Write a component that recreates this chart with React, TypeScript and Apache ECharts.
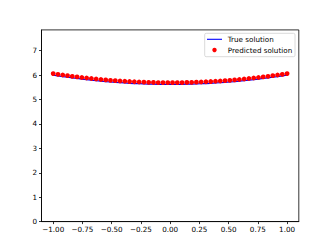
import React, { useEffect, useRef } from "react";
import * as echarts from "echarts";

const xValues = [
  -1.0, -0.9592, -0.9184, -0.8776, -0.8367, -0.7959, -0.7551, -0.7143, -0.6735, -0.6327,
  -0.5918, -0.551, -0.5102, -0.4694, -0.4286, -0.3878, -0.3469, -0.3061, -0.2653, -0.2245,
  -0.1837, -0.1429, -0.102, -0.0612, -0.0204, 0.0204, 0.0612, 0.102, 0.1429, 0.1837,
  0.2245, 0.2653, 0.3061, 0.3469, 0.3878, 0.4286, 0.4694, 0.5102, 0.551, 0.5918,
  0.6327, 0.6735, 0.7143, 0.7551, 0.7959, 0.8367, 0.8776, 0.9184, 0.9592, 1.0,
];

const trueValues = [
  6.0, 5.97, 5.941, 5.913, 5.886, 5.861, 5.837, 5.814, 5.792, 5.772,
  5.753, 5.735, 5.719, 5.704, 5.69, 5.677, 5.666, 5.656, 5.647, 5.639,
  5.633, 5.628, 5.624, 5.621, 5.62, 5.62, 5.621, 5.624, 5.628, 5.633,
  5.639, 5.647, 5.656, 5.666, 5.677, 5.69, 5.704, 5.719, 5.735, 5.753,
  5.772, 5.792, 5.814, 5.837, 5.861, 5.886, 5.913, 5.941, 5.97, 6.0,
];

const predictedValues = [
  6.06, 6.03, 6.002, 5.975, 5.949, 5.924, 5.901, 5.879, 5.858, 5.838,
  5.82, 5.802, 5.786, 5.772, 5.758, 5.746, 5.735, 5.725, 5.716, 5.709,
  5.703, 5.698, 5.694, 5.691, 5.69, 5.69, 5.691, 5.694, 5.698, 5.703,
  5.709, 5.716, 5.725, 5.735, 5.746, 5.758, 5.772, 5.786, 5.802, 5.82,
  5.838, 5.858, 5.879, 5.901, 5.924, 5.949, 5.975, 6.002, 6.03, 6.06,
];

const xTicks = [-1.0, -0.75, -0.5, -0.25, 0.0, 0.25, 0.5, 0.75, 1.0];
const yTicks = [0, 1, 2, 3, 4, 5, 6, 7];
const legendNames = ["True solution", "Predicted solution"];

const FONT = "DejaVu Sans";
const FS = 7.2;

export default function App() {
  const ref = useRef<HTMLDivElement>(null);
  useEffect(() => {
    if (!ref.current) return;
    const chart = echarts.init(ref.current, null, { renderer: "svg" });
    const gl = 41.5, gt = 29.9, gw = 257.3, gh = 191.7;
    const lx = 204.7, ly = 33.3, lw = 90.3, lh = 23.4;
    chart.setOption({
      animation: false,
      backgroundColor: "#ffffff",
      grid: {
        left: gl, top: gt, width: gw, height: gh,
        show: true, borderColor: "#000", borderWidth: 0.8, containLabel: false,
      },
      xAxis: {
        type: "value", min: -1.1, max: 1.1,
        splitLine: { show: false },
        axisLine: { show: true, onZero: false, lineStyle: { color: "#000", width: 0.8 } },
        axisTick: { show: true, length: 2.5, lineStyle: { color: "#000", width: 0.8 }, customValues: xTicks },
        axisLabel: {
          customValues: xTicks, margin: 4.5, color: "#000", fontFamily: FONT, fontSize: FS,
          formatter: (v: number) => v.toFixed(2).replace("-", "\u2212"),
        },
      },
      yAxis: {
        type: "value", min: 0, max: 7.85,
        splitLine: { show: false },
        axisLine: { show: true, onZero: false, lineStyle: { color: "#000", width: 0.8 } },
        axisTick: { show: true, length: 2.5, lineStyle: { color: "#000", width: 0.8 }, customValues: yTicks },
        axisLabel: {
          customValues: yTicks, margin: 4.5, color: "#000", fontFamily: FONT, fontSize: FS,
          formatter: (v: number) => String(Math.round(v)),
        },
      },
      series: [
        {
          name: legendNames[0], type: "line", showSymbol: false, symbol: "none",
          data: xValues.map((x, i) => [x, trueValues[i]]),
          lineStyle: { color: "#0000ff", width: 1.3 }, z: 2,
        },
        {
          name: legendNames[1], type: "scatter", symbol: "circle", symbolSize: 4.8,
          data: xValues.map((x, i) => [x, predictedValues[i]]),
          itemStyle: { color: "#ff0000", opacity: 1 }, z: 3,
        },
      ],
      graphic: [
        {
          type: "rect", shape: { x: lx, y: ly, width: lw, height: lh, r: 1.5 },
          style: { fill: "rgba(255,255,255,0.8)", stroke: "#d0d0d0", lineWidth: 0.8 }, z: 10,
        },
        {
          type: "line", shape: { x1: 207, y1: 39.3, x2: 222, y2: 39.3 },
          style: { stroke: "#0000ff", lineWidth: 1.1 }, z: 11,
        },
        {
          type: "circle", shape: { cx: 214.5, cy: 50, r: 2.2 },
          style: { fill: "#ff0000" }, z: 11,
        },
        {
          type: "text", x: 227.7, y: 39.3,
          style: { text: legendNames[0], fill: "#000", font: `${FS}px "${FONT}"`, verticalAlign: "middle", align: "left" }, z: 11,
        },
        {
          type: "text", x: 227.7, y: 50,
          style: { text: legendNames[1], fill: "#000", font: `${FS}px "${FONT}"`, verticalAlign: "middle", align: "left" }, z: 11,
        },
      ],
    });
    return () => chart.dispose();
  }, []);
  return <div ref={ref} style={{ position: "fixed", left: 0, top: 0, width: 332, height: 249 }} />;
}
